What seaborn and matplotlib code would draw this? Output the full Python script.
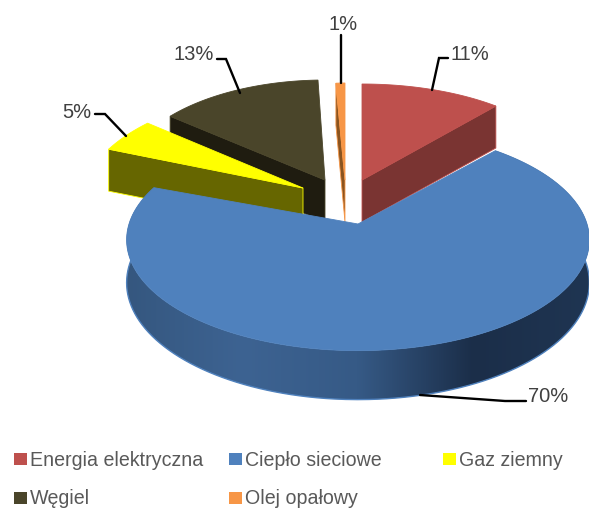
import numpy as np
import matplotlib.pyplot as plt
import seaborn as sns

# Data
labels = ['Energia elektryczna', 'Ciepło sieciowe', 'Gaz ziemny', 'Węgiel', 'Olej opałowy']
shares = [11, 70, 5, 13, 1]
top_colors = ['#be504d', '#4f81bd', '#ffff00', '#4a452a', '#f79646']
side_colors = ['#7a3432', '#2c4a70', '#666600', '#1f1c10', '#8a5420']

sns.set_theme(style='white')
plt.rcParams['font.family'] = ['Liberation Sans', 'DejaVu Sans']

# slice placement in pixels: centre x, centre y, x radius, y radius, perspective
placement = [
    (362, 180, 210, 96, 0),
    (358, 224, 229, 108.5, 0.143),
    (303, 188, 220, 111, 0.143),
    (325, 180, 201, 100, 0),
    (345, 180, 145, 97, 0),
]
# small angle corrections (start, end) for the 3D projection look
tweak = [(0, 0), (2, -1), (0, 0), (0, 1.6), (0, 0)]
depth = 42

fig = plt.figure(figsize=(5.89, 5.08), dpi=100)
ax = fig.add_axes([0, 0, 1, 1])

edges = np.cumsum([0] + shares) / sum(shares) * 360
start = [edges[i] + tweak[i][0] for i in range(5)]
stop = [edges[i + 1] + tweak[i][1] for i in range(5)]


def arc(i, a0, a1, n=200):
    cx, cy, rx, ry, p = placement[i]
    t = np.radians(np.linspace(a0, a1, n))
    s = 1 / (1 + p * np.cos(t))
    return cx + rx * np.sin(t) * s, cy - ry * np.cos(t) * s, s


def draw_top(i):
    cx, cy = placement[i][:2]
    x, y, _ = arc(i, start[i], stop[i])
    ax.fill(np.r_[cx, x], np.r_[cy, y], color=top_colors[i], lw=0.6)


def draw_radial(i, angle):
    cx, cy = placement[i][:2]
    x, y, _ = arc(i, angle, angle, 1)
    ax.fill([cx, x[0], x[0], cx], [cy, y[0], y[0] + depth, cy + depth],
            facecolor=side_colors[i], edgecolor=top_colors[i], lw=0.6)


# back to front: oil, coal, electricity, gas, then heat on top
for i, angle in [(4, start[4]), (3, start[3]), (0, stop[0]), (2, start[2])]:
    draw_radial(i, angle)
    draw_top(i)

# rim of the big slice, shaded from left to right
x, y, s = arc(1, start[1], stop[1], 400)
shade = np.array(sns.blend_palette(['#35577f', '#3d6392', '#365a86', '#1b2e49', '#1f3552'], 256))
rim = plt.Polygon(np.c_[np.r_[x, x[::-1]], np.r_[y, (y + depth * s)[::-1]]],
                  closed=True, transform=ax.transData, fc='none', ec='none')
ax.add_patch(rim)
img = ax.imshow(shade[None, :, :], extent=(126, 589, 420, 130), aspect='auto', zorder=1)
img.set_clip_path(rim)
ax.plot(x, y + depth * s, color=top_colors[1], lw=1, zorder=2)
cx, cy = placement[1][:2]
ax.fill(np.r_[cx, x], np.r_[cy, y], color=top_colors[1], lw=0.6, zorder=3)

ax.set_xlim(0, 589)
ax.set_ylim(508, 0)
ax.axis('off')

# percentage labels with leader lines
text_color = '#404040'
leaders = [
    ([448, 439, 432], [58, 58, 90]),
    ([526, 505, 420], [401, 401, 395]),
    ([95, 105, 126], [114, 114, 136]),
    ([217, 226, 240], [59, 59, 93]),
    ([341, 341], [35, 83]),
]
label_pos = [(470, 55), (548, 397), (77, 112), (194, 55), (343, 25)]
for i, v in enumerate(shares):
    ax.plot(leaders[i][0], leaders[i][1], color='black', lw=1.7, solid_joinstyle='miter', zorder=4)
    ax.text(label_pos[i][0], label_pos[i][1], f'{v}%', color=text_color, fontsize=14.5,
            ha='center', va='center', zorder=4)

# legend
legend_pos = [(14, 459), (229, 459), (443, 459), (14, 498), (229, 498)]
for i, name in enumerate(labels):
    lx, ly = legend_pos[i]
    ax.add_patch(plt.Rectangle((lx, ly - 6), 13, 12, color=top_colors[i], lw=0))
    ax.text(lx + 16, ly + 1, name, color='#595959', fontsize=14.1, va='center')

fig.savefig('out.png', dpi=100)
